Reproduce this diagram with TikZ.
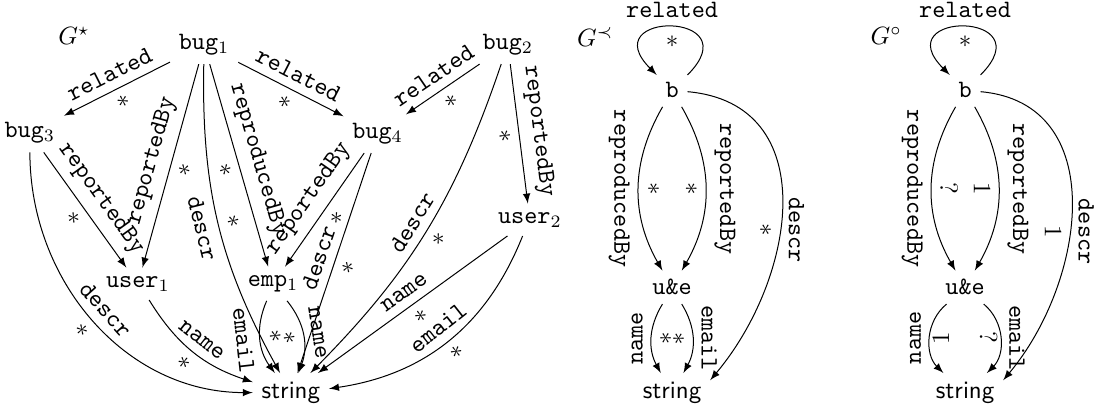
\documentclass[tikz,border=0pt]{standalone}
\tikzset{
	lab/.style={font=\ttfamily, sloped},
	mult/.style={sloped},
	rlab/.style={font=\ttfamily, rotate=-90},
	llab/.style={font=\ttfamily, rotate=90},
	rmult/.style={rotate=-90},
	lmult/.style={rotate=90},
}

\begin{document}
\begin{tikzpicture}[>=latex]
		%%%%% START %%%%%
		\useasboundingbox (0, 0) rectangle (15.41, 5.76);
		
		% G star
		\node (gstar) at (1.04, 5.26) {$G^\star$};
		\node (bug1) at (2.87, 5.13) {\texttt{bug}$_1$};
		\node (bug2) at (7.14, 5.13) {\texttt{bug}$_2$};
		\node (bug3) at (0.42, 3.89) {\texttt{bug}$_3$};
		\node (bug4) at (5.31, 3.88) {\texttt{bug}$_4$};
		\node (user1) at (1.94, 1.77) {\texttt{user}$_1$};
		\node (emp1) at (3.84, 1.77) {\texttt{emp}$_1$};
		\node (user2) at (7.45, 2.67) {\texttt{user}$_2$};
		\node (str) at (4.09, 0.24) {\textsf{string}};
		
		\draw[->] (bug1) -- node[lab, above] {related} node[mult, below] {$*$} (bug3);
		\draw[->] (bug1) -- node[lab, above] {related} node[mult, below] {$*$} (bug4);
		\draw[->] (bug2) -- node[lab, above] {related} node[mult, below] {$*$} (bug4);
		\draw[->] (bug2) -- node[lab, above] {reportedBy} node[mult, below] {$*$} (user2);
		\draw[->] (bug3) -- node[lab, above] {reportedBy} node[mult, below] {$*$} (user1);
		\draw[->] (bug1) -- node[lab, above] {reportedBy} node[mult, below] {$*$} (user1);
		\draw[->] (bug1) -- node[lab, above] {reproducedBy} node[mult, below] {$*$} (emp1);
		\draw[->] (bug4) -- node[lab, above] {reportedBy} node[mult, below] {$*$} (emp1);
		
		\draw[->] (bug1) to[bend right=15] node[lab, below] {descr} node[mult, above] {$*$} (str);
		\draw[->] (bug3) to[out=-90, in=180] node[lab, above] {descr} node[mult, below] {$*$} (str);
		\draw[->] (bug4) -- node[lab, above] {descr} node[mult, below] {$*$} (str);
		\draw[->] (bug2) to[bend left=13] node[lab, above] {descr} node[mult, below] {$*$} (str);
		\draw[->] (user1) to[bend right=20] node[lab, above] {name} node[mult, below] {$*$} (str);
		\draw[->] (emp1) to[bend right=30] node[lab, below] {email} node[mult, above] {$*$} (str);
		\draw[->] (emp1) to[bend left=30] node[lab, above] {name} node[mult, below] {$*$} (str);
		\draw[->] (user2) -- node[lab, above] {name} node[mult, below] {$*$} (str);
		\draw[->] (user2) to[bend left=30] node[lab, above] {email} node[mult, below] {$*$} (str);
		
		% G prec
		\node (gprec) at (8.37, 5.24) {$G^\prec$};
		\node (bP) at (9.45, 4.49) {\texttt{b}};
		\node (ueP) at (9.45, 1.72) {\texttt{u\&e}};
		\node (strP) at (9.45, 0.24) {\textsf{string}};
		
		\draw[->] (bP) to[out=45, in=135, distance=1.28cm] node[font=\ttfamily, above] {related} node[below] {$*$} (bP);
		\draw[->] (bP) to[bend right=30] node[rlab, below] {reproducedBy} node[rmult, above] {$*$} (ueP);
		\draw[->] (bP) to[bend left=30] node[rlab, above] {reportedBy} node[rmult, below] {$*$} (ueP);
		\draw[->] (bP) to[out=-5, in=50, looseness=1.2] node[rlab, above, pos=0.58] {descr} node[rmult, below, pos=0.58] {$*$} (strP.18);
		\draw[->] (ueP) to[bend right=30] node[llab, above] {name} node[lmult, below] {$*$} (strP);
		\draw[->] (ueP) to[bend left=30] node[rlab, above] {email} node[rmult, below] {$*$} (strP);
		
		% G circ
		\node (gcirc) at (12.46, 5.26) {$G^\circ$};
		\node (bC) at (13.57, 4.49) {\texttt{b}};
		\node (ueC) at (13.57, 1.72) {\texttt{u\&e}};
		\node (strC) at (13.57, 0.24) {\textsf{string}};
		
		\draw[->] (bC) to[out=45, in=135, distance=1.28cm] node[font=\ttfamily, above] {related} node[below] {$*$} (bC);
		\draw[->] (bC) to[bend right=30] node[rlab, below] {reproducedBy} node[rmult, above] {$?$} (ueC);
		\draw[->] (bC) to[bend left=30] node[rlab, above] {reportedBy} node[rmult, below] {$1$} (ueC);
		\draw[->] (bC) to[out=-5, in=50, looseness=1.15] node[rlab, above, pos=0.58] {descr} node[rmult, below, pos=0.58] {$1$} (strC.18);
		\draw[->] (ueC) to[bend right=48] node[llab, above] {name} node[lmult, below, inner sep=1pt] {$1$} (strC);
		\draw[->] (ueC) to[bend left=48] node[rlab, above] {email} node[rmult, below, inner sep=1pt] {$?$} (strC);
		
		%%%%% END %%%%%
	\end{tikzpicture}
\end{document}
